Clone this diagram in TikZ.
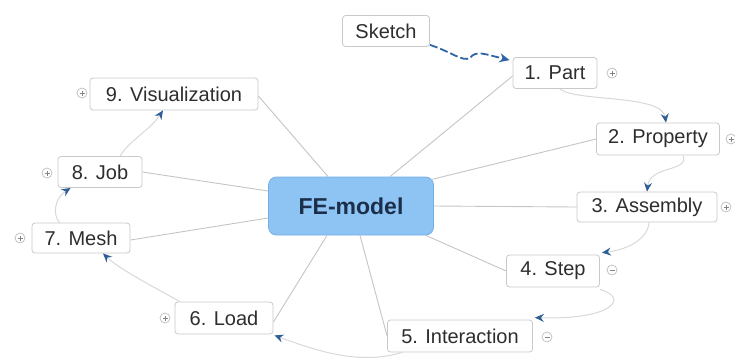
\documentclass[tikz,border=0pt]{standalone}
\usepackage{fontspec}
\setmainfont{Liberation Sans}
\usetikzlibrary{arrows.meta,calc}
\definecolor{fefill}{HTML}{8EC4F4}
\definecolor{fedraw}{HTML}{74AEE6}
\definecolor{fetext}{HTML}{1B2F4A}
\definecolor{txt}{HTML}{2E2E2E}
\definecolor{boxgray}{HTML}{C9C9C9}
\definecolor{linkgray}{HTML}{C4C4C4}
\definecolor{seqgray}{HTML}{D8D8D8}
\definecolor{arrowblue}{HTML}{2F5F95}
\definecolor{dashblue}{HTML}{2F64A6}
\definecolor{toggray}{HTML}{BDBDBD}
\begin{document}
\begin{tikzpicture}[x=1pt,y=-1pt,
  box/.style={draw=boxgray, fill=white, rounded corners=3pt, text=txt,
    font=\fontsize{20}{24}\selectfont, inner sep=0pt, line width=0.8pt},
  femodel/.style={draw=fedraw, fill=fefill, rounded corners=8pt, text=fetext,
    font=\bfseries\fontsize{23}{27}\selectfont, inner sep=0pt, line width=0.8pt,
    minimum width=165pt, minimum height=58pt},
  link/.style={draw=linkgray, line width=0.9pt},
  seq/.style={draw=seqgray, line width=1pt,
    -{Stealth[length=9pt,width=8pt,inset=3pt,color=arrowblue]}},
  dashseq/.style={draw=dashblue, line width=1.8pt, dash pattern=on 8pt off 3pt,
    -{Stealth[length=10pt,width=9pt,inset=3pt,color=dashblue]}},
  togbase/.style={circle, draw=toggray, fill=white, minimum size=10pt, inner sep=0pt, line width=0.7pt},
  togplus/.style={togbase, path picture={
    \draw[toggray!70!black, line width=0.6pt]
      ([xshift=-2.5pt]path picture bounding box.center) -- ([xshift=2.5pt]path picture bounding box.center)
      ([yshift=-2.5pt]path picture bounding box.center) -- ([yshift=2.5pt]path picture bounding box.center);}},
  togminus/.style={togbase, path picture={
    \draw[toggray!70!black, line width=0.6pt]
      ([xshift=-2.5pt]path picture bounding box.center) -- ([xshift=2.5pt]path picture bounding box.center);}}
]
\useasboundingbox (0,0) rectangle (735,360);

% central node
\node[femodel] (fe) at (351,206) {FE-model};

% child nodes
\node[box, minimum width=87pt, minimum height=31pt] (sketch) at (386,31) {Sketch};
\node[box, minimum width=84pt, minimum height=31pt] (part) at (555,73) {1. Part};
\node[box, minimum width=123pt, minimum height=32pt] (prop) at (658,139) {2. Property};
\node[box, minimum width=140pt, minimum height=30pt] (asm) at (647,207) {3. Assembly};
\node[box, minimum width=93pt, minimum height=32pt] (step) at (553,271) {4. Step};
\node[box, minimum width=145pt, minimum height=32pt] (inter) at (460,336) {5. Interaction};
\node[box, minimum width=98pt, minimum height=32pt] (load) at (224,318) {6. Load};
\node[box, minimum width=98pt, minimum height=30pt] (mesh) at (81,238) {7. Mesh};
\node[box, minimum width=84pt, minimum height=31pt] (job) at (100,172) {8. Job};
\node[box, minimum width=168pt, minimum height=32pt] (vis) at (174,94) {9. Visualization};

% toggles
\node[togplus] (tpart) at (612,73) {};
\node[togplus] (tprop) at (731,139) {};
\node[togplus] (tasm) at (726,207) {};
\node[togminus] (tstep) at (612,270) {};
\node[togminus] (tinter) at (547,337) {};
\node[togplus] (tload) at (165,318) {};
\node[togplus] (tmesh) at (20,238) {};
\node[togplus] (tjob) at (47,173) {};
\node[togplus] (tvis) at (82,93) {};

% main links from central node
\draw[link] ($(fe.north west)+(122,0)$) -- ([yshift=-3pt]part.west);
\draw[link] ($(fe.north east)+(-3,3)$) -- (prop.west);
\draw[link] (fe.east) -- (asm.west);
\draw[link] ($(fe.south east)+(-8,0)$) -- (step.west);
\draw[link] ($(fe.south)+(9,0)$) -- (inter.west);
\draw[link] ($(fe.south)+(-24,0)$) -- ([yshift=-4pt]load.east);
\draw[link] ($(fe.west)+(0,12)$) -- ([yshift=-2pt]mesh.east);
\draw[link] ($(fe.west)+(0,-15)$) -- (job.east);
\draw[link] ($(fe.north west)+(60,0)$) -- ([yshift=-2pt]vis.east);

% sequence relations
\draw[dashseq] ($(sketch.south east)+(0,-2)$) .. controls (452,52) and (462,62) .. (470,58)
   .. controls (476,50) and (484,54) .. ([xshift=-3pt,yshift=-3pt]part.north west);
\draw[seq] ($(part.south)+(5,0)$) .. controls (575,102) and (662,94) .. ($(prop.north)+(8,0)$);
\draw[seq] ($(prop.south)+(25,0)$) .. controls (690,172) and (650,165) .. (asm.north);
\draw[seq] ($(asm.south)+(2,0)$) .. controls (648,240) and (625,250) .. ([xshift=2pt,yshift=2pt]step.north east);
\draw[seq] ($(step.south east)+(0,2)$) .. controls (630,298) and (612,320) .. ([xshift=2pt,yshift=2pt]inter.north east);
\draw[seq] ($(inter.south west)+(15,0)$) .. controls (360,365) and (320,352) .. ([xshift=1pt,yshift=-1pt]load.south east);
\draw[seq] ($(load.north west)+(5,0)$) .. controls (160,290) and (120,270) .. ($(mesh.south)+(22,0)$);
\draw[seq] ($(mesh.north west)+(28,0)$) .. controls (52,214) and (55,198) .. ($(job.south west)+(13,0)$);
\draw[seq] ($(job.north)+(20,0)$) .. controls (130,140) and (150,130) .. ($(vis.south)+(-11,0)$);
\end{tikzpicture}
\end{document}
